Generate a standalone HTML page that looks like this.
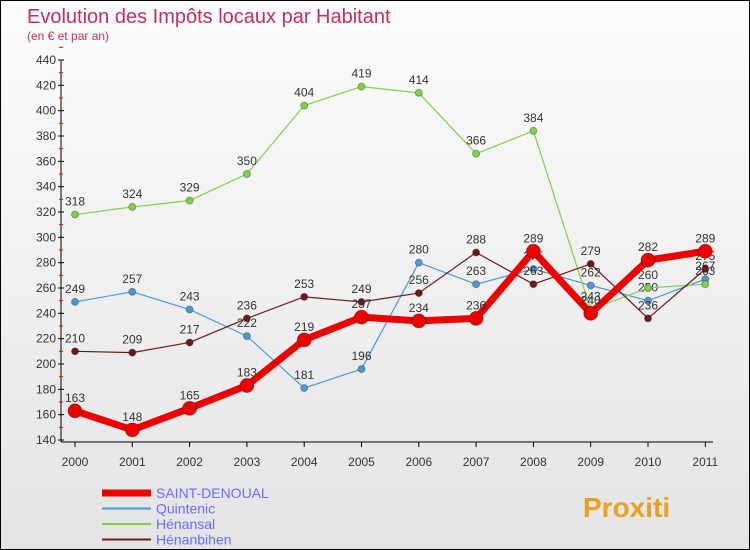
<!DOCTYPE html>
<html><head><meta charset="utf-8"><style>
body{margin:0;}
#c{width:748px;height:548px;border:1px solid #000;position:relative;background:linear-gradient(#fcfcfc,#e4e4e4);font-family:"Liberation Sans",sans-serif;overflow:hidden}
</style></head><body>
<div id="c">
<svg id="s" width="748" height="548" xmlns="http://www.w3.org/2000/svg">
<text x="26" y="22" font-size="20" fill="#c0305f">Evolution des Impôts locaux par Habitant</text>
<text x="26" y="39" font-size="12" fill="#c0305f">(en € et par an)</text>
<g id="g"></g>
</svg>
</div>
<script>
const years=["2000","2001","2002","2003","2004","2005","2006","2007","2008","2009","2010","2011"];
const yTicks=[140,160,180,200,220,240,260,280,300,320,340,360,380,400,420,440];
const saint=[163,148,165,183,219,237,234,236,289,240,282,289];
const quintenic=[249,257,243,222,181,196,280,263,275,262,250,267];
const henansal=[318,324,329,350,404,419,414,366,384,243,260,263];
const henanbihen=[210,209,217,236,253,249,256,288,263,279,236,275];
const NS="http://www.w3.org/2000/svg";
const g=document.getElementById('g');
const X=i=>74+i*57.3;
const Y=v=>59+(440-v)*(380/300);
function el(t,a,p){const e=document.createElementNS(NS,t);for(const k in a)e.setAttribute(k,a[k]);(p||g).appendChild(e);return e;}
let ax=el('line',{x1:60,y1:59,x2:60,y2:441,stroke:'#000'});


let xa=el('line',{x1:60,y1:441,x2:712,y2:441,stroke:'#000'});


yTicks.forEach(v=>{
 el('line',{x1:57,x2:63,y1:Y(v),y2:Y(v),stroke:'#000'});
 el('line',{x1:58,x2:62,y1:Y(v+10),y2:Y(v+10),stroke:'#e00'});
 const t=el('text',{x:55,y:Y(v)+4,'font-size':12,'text-anchor':'end',fill:'#333'});t.textContent=v;
 
 
});
years.forEach((y,i)=>{
 el('line',{x1:X(i),x2:X(i),y1:441,y2:446,stroke:'#000'});
 const t=el('text',{x:X(i),y:465,'font-size':12,'text-anchor':'middle',fill:'#333'});t.textContent=y;
 
 
});
function series(d,color,w,r,name){
 const p=el('polyline',{points:d.map((v,i)=>X(i)+','+Y(v)).join(' '),fill:'none',stroke:color,'stroke-width':w,'stroke-linejoin':'round'});
 
 
 d.forEach((v,i)=>{
  const c=el('circle',{cx:X(i),cy:Y(v),r:r,fill:color,stroke:'rgba(0,0,0,0.3)','stroke-width':1});
  
  
  const t=el('text',{x:X(i),y:Y(v)-9,'font-size':12,'text-anchor':'middle',fill:'#333'});t.textContent=v;
  
  
 });
}
series(quintenic,'#4a9ad4',1.2,3.5,'quintenic');
series(henansal,'#7fd14a',1.2,3.5,'henansal');
series(henanbihen,'#6b1a1a',1.2,3.5,'henanbihen');
series(saint,'#ee0000',7,7,'saint-denoual');
const leg=[['SAINT-DENOUAL','#ee0000',7],['Quintenic','#4a9ad4',2],['Hénansal','#7fd14a',2],['Hénanbihen','#6b1a1a',2]];
leg.forEach((l,i)=>{
 const y=492+i*15.5;
 const ln=el('line',{x1:101,x2:150,y1:y,y2:y,stroke:l[1],'stroke-width':l[2]});
 
 
 const t=el('text',{x:155,y:y+5,'font-size':14,fill:'#6b6bff'});t.textContent=l[0];
 
 
});
const lg=el('text',{x:582,y:516,'font-size':28,'font-weight':'bold',fill:'#e8a020'});
lg.textContent='Proxiti';


</script>
</body></html>
